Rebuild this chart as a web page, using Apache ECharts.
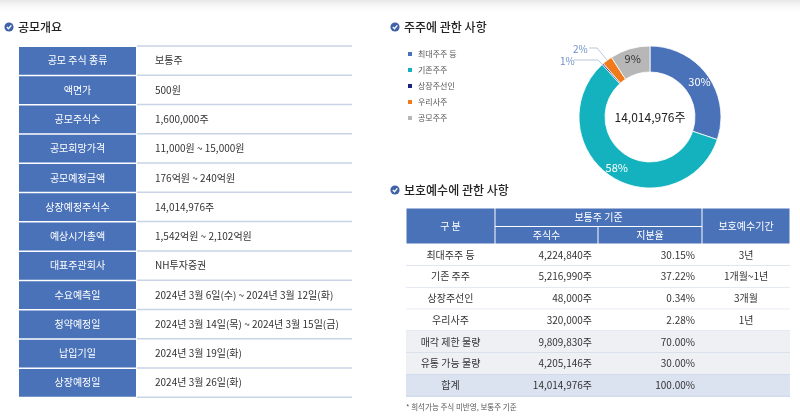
<!DOCTYPE html>
<html><head><meta charset="utf-8">
<script src="https://cdn.jsdelivr.net/npm/echarts@6/dist/echarts.min.js"></script>
<style>html,body{margin:0;padding:0;background:#fff}#c{width:800px;height:419px}</style>
</head><body><div id="c"></div>
<script>
// ---- data ----
const overviewLabels = ['공모 주식 종류','액면가','공모주식수','공모희망가격','공모예정금액','상장예정주식수','예상시가총액','대표주관회사','수요예측일','청약예정일','납입기일','상장예정일'];
const overviewValues = ['보통주','500원','1,600,000주','11,000원 ~ 15,000원','176억원 ~ 240억원','14,014,976주','1,542억원 ~ 2,102억원','NH투자증권','2024년 3월 6일(수) ~ 2024년 3월 12일(화)','2024년 3월 14일(목) ~ 2024년 3월 15일(금)','2024년 3월 19일(화)','2024년 3월 26일(화)'];

const shareCats = ['최대주주 등','기존주주','상장주선인','우리사주','공모주주'];
const shareValues = [4224840, 8142136, 48000, 320000, 1280000];
const shareLabels = ['30%','58%','1%','2%','9%'];
const shareTotal = '14,014,976주';

const lockNames = ['최대주주 등','기존 주주','상장주선인','우리사주','매각 제한 물량','유통 가능 물량','합계'];
const lockShares = ['4,224,840주','5,216,990주','48,000주','320,000주','9,809,830주','4,205,146주','14,014,976주'];
const lockRatios = ['30.15%','37.22%','0.34%','2.28%','70.00%','30.00%','100.00%'];
const lockPeriods = ['3년','1개월~1년','3개월','1년','','',''];
const lockHeader = ['구 분','보통주 기준','주식수','지분율','보호예수기간'];
const titles = ['공모개요','주주에 관한 사항','보호예수에 관한 사항'];
const footnote = '* 희석가능 주식 미반영, 보통주 기준';

// ---- styles ----
const FONT = '"Noto Sans CJK KR","Noto Sans",sans-serif';
const BLUE = '#4a72b9';
const LINE = '#c9d3e6';
const colors = ['#4a72b9','#14b2be','#1a237e','#f07a1c','#b7b7b7'];

const g = [];
// top shadow band
g.push({type:'rect',shape:{x:0,y:0,width:800,height:14},style:{fill:{type:'linear',x:0,y:0,x2:0,y2:1,colorStops:[{offset:0,color:'#e6e6e6'},{offset:1,color:'rgba(255,255,255,0)'}]}},silent:true});

function sectionTitle(x, y, text){
  g.push({type:'circle',shape:{cx:x+4,cy:y,r:4.6},style:{fill:'#3f62a8'}});
  g.push({type:'polyline',shape:{points:[[x+1.9,y+0.1],[x+3.5,y+1.8],[x+6.3,y-1.6]]},style:{stroke:'#fff',lineWidth:1.4,fill:null}});
  g.push({type:'text',x:x+13,y:y,style:{text:text,font:'500 12px '+FONT,fill:'#222',textVerticalAlign:'middle'}});
}
sectionTitle(5, 27, titles[0]);
sectionTitle(391, 27, titles[1]);
sectionTitle(391, 190, titles[2]);

// ---- left table ----
const L = {x0:19, xm:136, x1:352, y0:46, rh:29.27};
overviewLabels.forEach((lab, i) => {
  const y = L.y0 + i*L.rh;
  g.push({type:'rect',shape:{x:L.x0,y:y+1,width:L.xm-L.x0,height:L.rh-1.5},style:{fill:BLUE}});
  g.push({type:'text',x:(L.x0+L.xm)/2,y:y+L.rh/2,style:{text:lab,font:'10px '+FONT,fill:'#fff',textAlign:'center',textVerticalAlign:'middle'}});
  g.push({type:'text',x:155,y:y+L.rh/2,style:{text:overviewValues[i],font:'10px '+FONT,fill:'#333',textVerticalAlign:'middle'}});
  g.push({type:'line',shape:{x1:L.xm+1,y1:y+L.rh,x2:L.x1,y2:y+L.rh},style:{stroke:LINE,lineWidth:1.5}});
});
g.push({type:'line',shape:{x1:L.xm+1,y1:L.y0,x2:L.x1,y2:L.y0},style:{stroke:LINE,lineWidth:1.5}});

// ---- right table ----
const R = {x0:406, c1:495, c2:598, c3:702, x1:790, h0:208, hm:226.5, h1:244, rh:21.75};
function hcell(x, y, w, h, text){
  g.push({type:'rect',shape:{x:x+0.5,y:y+0.5,width:w-1,height:h-1},style:{fill:BLUE}});
  g.push({type:'text',x:x+w/2,y:y+h/2,style:{text:text,font:'10px '+FONT,fill:'#fff',textAlign:'center',textVerticalAlign:'middle'}});
}
hcell(R.x0,R.h0,R.c1-R.x0,R.h1-R.h0,lockHeader[0]);
hcell(R.c1,R.h0,R.c3-R.c1,R.hm-R.h0,lockHeader[1]);
hcell(R.c1,R.hm,R.c2-R.c1,R.h1-R.hm,lockHeader[2]);
hcell(R.c2,R.hm,R.c3-R.c2,R.h1-R.hm,lockHeader[3]);
hcell(R.c3,R.h0,R.x1-R.c3,R.h1-R.h0,lockHeader[4]);
lockNames.forEach((nm, i) => {
  const y = R.h1 + i*R.rh;
  const fill = i===6 ? '#dbe2f0' : (i>=4 ? '#eef0f4' : '#fff');
  g.push({type:'rect',shape:{x:R.x0,y:y,width:R.x1-R.x0,height:R.rh},style:{fill:fill}});
  const cy = y + R.rh/2;
  const st = '10px '+FONT;
  g.push({type:'text',x:(R.x0+R.c1)/2,y:cy,style:{text:nm,font:st,fill:'#333',textAlign:'center',textVerticalAlign:'middle'}});
  g.push({type:'text',x:592,y:cy,style:{text:lockShares[i],font:st,fill:'#333',textAlign:'right',textVerticalAlign:'middle'}});
  g.push({type:'text',x:695,y:cy,style:{text:lockRatios[i],font:st,fill:'#333',textAlign:'right',textVerticalAlign:'middle'}});
  g.push({type:'text',x:(R.c3+R.x1)/2,y:cy,style:{text:lockPeriods[i],font:st,fill:'#333',textAlign:'center',textVerticalAlign:'middle'}});
  g.push({type:'line',shape:{x1:R.x0,y1:y+R.rh,x2:R.x1,y2:y+R.rh},style:{stroke:LINE,lineWidth:1.2}});
});
g.push({type:'text',x:406,y:407,style:{text:footnote,font:'7.5px '+FONT,fill:'#555',textVerticalAlign:'middle'}});

// center text
g.push({type:'text',x:650,y:117,style:{text:shareTotal,font:'12px '+FONT,fill:'#222',textAlign:'center',textVerticalAlign:'middle'},z:10});

const pieData = shareCats.map((n, i) => {
  const d = {name:n, value:shareValues[i]};
  if (i===2 || i===3) {
    d.label = {position:'outside', color:'#6f8fc8', fontSize:10};
    d.labelLine = {show:true, lineStyle:{color:'#b9c6de',width:1}};
  } else if (i===4) {
    d.label = {color:'#333'};
  }
  return d;
});

const chart = echarts.init(document.getElementById('c'), null, {renderer:'canvas'});
chart.setOption({
  animation:false,
  color: colors,
  textStyle:{fontFamily:FONT},
  legend:{
    orient:'vertical', left:401, top:45, itemWidth:6, itemHeight:6, itemGap:8, icon:'rect',
    textStyle:{fontSize:8, color:'#555', fontFamily:FONT}, data:shareCats
  },
  series:[{
    type:'pie', center:[650,117], radius:[45,71], startAngle:90, clockwise:true,
    avoidLabelOverlap:false,
    itemStyle:{borderColor:'#fff', borderWidth:0.8},
    label:{show:true, position:'inside', color:'#fff', fontSize:11, fontFamily:FONT,
      formatter:(p)=>shareLabels[p.dataIndex]},
    labelLine:{show:false},
    labelLayout:function(p){
      if (p.dataIndex===3) return {x:573,y:49,align:'left',verticalAlign:'middle',hideOverlap:false,
        labelLinePoints:[[589,48],[597,48],[607,60]]};
      if (p.dataIndex===2) return {x:560,y:61,align:'left',verticalAlign:'middle',hideOverlap:false,
        labelLinePoints:[[574,60],[598,60],[602,64]]};
      return {hideOverlap:false};
    },
    data: pieData
  }],
  graphic: g
});
</script></body></html>
